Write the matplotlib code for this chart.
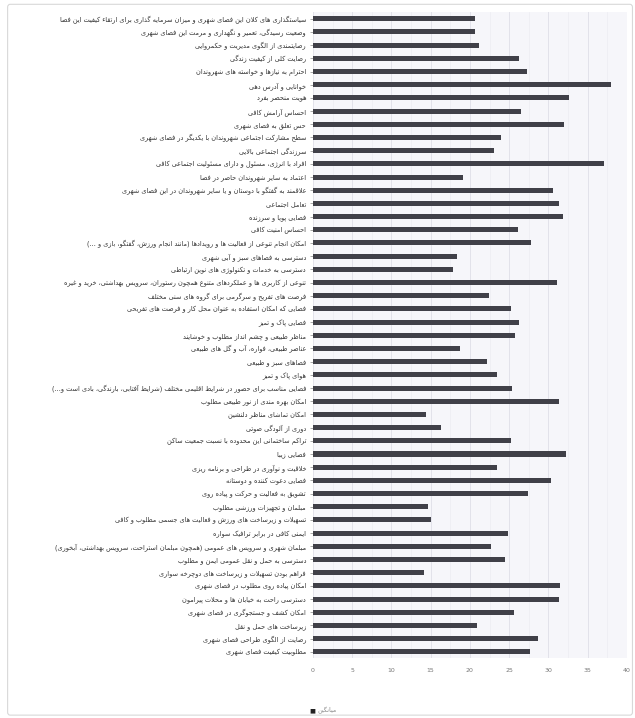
import matplotlib
matplotlib.use('Agg')
import matplotlib.pyplot as plt
from matplotlib.patches import FancyBboxPatch

labels = [
    'سیاستگذاری های کلان این فضای شهری و میزان سرمایه گذاری برای ارتقاء کیفیت این فضا',
    'وضعیت رسیدگی، تعمیر و نگهداری و مرمت این فضای شهری',
    'رضایتمندی از الگوی مدیریت و حکمروایی',
    'رضایت کلی از کیفیت زندگی',
    'احترام به نیازها و خواسته های شهروندان',
    'خوانایی و آدرس دهی',
    'هویت منحصر بفرد',
    'احساس آرامش کافی',
    'حس تعلق به فضای شهری',
    'سطح مشارکت اجتماعی شهروندان با یکدیگر در فضای شهری',
    'سرزندگی اجتماعی بالایی',
    'افراد با انرژی، مسئول و دارای مسئولیت اجتماعی کافی',
    'اعتماد به سایر شهروندان حاضر در فضا',
    'علاقمند به گفتگو با دوستان و یا سایر شهروندان در این فضای شهری',
    'تعامل اجتماعی',
    'فضایی پویا و سرزنده',
    'احساس امنیت کافی',
    'امکان انجام تنوعی از فعالیت ها و رویدادها (مانند انجام ورزش، گفتگو، بازی و ...)',
    'دسترسی به فضاهای سبز و آبی شهری',
    'دسترسی به خدمات و تکنولوژی های نوین ارتباطی',
    'تنوعی از کاربری ها و عملکردهای متنوع همچون رستوران، سرویس بهداشتی، خرید و غیره',
    'فرصت های تفریح و سرگرمی برای گروه های سنی مختلف',
    'فضایی که امکان استفاده به عنوان محل کار و فرصت های تفریحی',
    'فضایی پاک و تمیز',
    'مناظر طبیعی و چشم انداز مطلوب و خوشایند',
    'عناصر طبیعی، فواره، آب و گل های طبیعی',
    'فضاهای سبز و طبیعی',
    'هوای پاک و تمیز',
    'فضایی مناسب برای حضور در شرایط اقلیمی مختلف (شرایط آفتابی، بارندگی، بادی است و...)',
    'امکان بهره مندی از نور طبیعی مطلوب',
    'امکان تماشای مناظر دلنشین',
    'دوری از آلودگی صوتی',
    'تراکم ساختمانی این محدوده با نسبت جمعیت ساکن',
    'فضایی زیبا',
    'خلاقیت و نوآوری در طراحی و برنامه ریزی',
    'فضایی دعوت کننده و دوستانه',
    'تشویق به فعالیت و حرکت و پیاده روی',
    'مبلمان و تجهیزات ورزشی مطلوب',
    'تسهیلات و زیرساخت های ورزش و فعالیت های جسمی مطلوب و کافی',
    'ایمنی کافی در برابر ترافیک سواره',
    'مبلمان شهری و سرویس های عمومی (همچون مبلمان استراحت، سرویس بهداشتی، آبخوری)',
    'دسترسی به حمل و نقل عمومی ایمن و مطلوب',
    'فراهم بودن تسهیلات و زیرساخت های دوچرخه سواری',
    'امکان پیاده روی مطلوب در فضای شهری',
    'دسترسی راحت به خیابان ها و محلات پیرامون',
    'امکان کشف و جستجوگری در فضای شهری',
    'زیرساخت های حمل و نقل',
    'رضایت از الگوی طراحی فضای شهری',
    'مطلوبیت کیفیت فضای شهری',
]

values = [20.6, 20.6, 21.1, 26.2, 27.3, 38.0, 32.7, 26.5, 32.0, 24.0,
          23.1, 37.1, 19.1, 30.6, 31.3, 31.9, 26.1, 27.8, 18.3, 17.9,
          31.1, 22.4, 25.3, 26.3, 25.8, 18.7, 22.2, 23.5, 25.4, 31.4,
          14.4, 16.3, 25.2, 32.2, 23.5, 30.4, 27.4, 14.6, 15.1, 24.9,
          22.7, 24.5, 14.2, 31.5, 31.3, 25.6, 20.9, 28.7, 27.6]

xticks = [0, 5, 10, 15, 20, 25, 30, 35, 40]
legend_label = 'میانگین'

# matplotlib has no arabic shaping, so pick presentation forms by hand
# (isolated, final, initial, medial)
FORMS = {
    'ا': ('\uFE8D', '\uFE8E'), 'آ': ('\uFE81', '\uFE82'),
    'أ': ('\uFE83', '\uFE84'), 'إ': ('\uFE87', '\uFE88'),
    'د': ('\uFEA9', '\uFEAA'), 'ذ': ('\uFEAB', '\uFEAC'),
    'ر': ('\uFEAD', '\uFEAE'), 'ز': ('\uFEAF', '\uFEB0'),
    'ژ': ('\uFB8A', '\uFB8B'), 'و': ('\uFEED', '\uFEEE'),
    'ؤ': ('\uFE85', '\uFE86'), 'ة': ('\uFE93', '\uFE94'),
    'ب': ('\uFE8F', '\uFE90', '\uFE91', '\uFE92'),
    'پ': ('\uFB56', '\uFB57', '\uFB58', '\uFB59'),
    'ت': ('\uFE95', '\uFE96', '\uFE97', '\uFE98'),
    'ث': ('\uFE99', '\uFE9A', '\uFE9B', '\uFE9C'),
    'ج': ('\uFE9D', '\uFE9E', '\uFE9F', '\uFEA0'),
    'چ': ('\uFB7A', '\uFB7B', '\uFB7C', '\uFB7D'),
    'ح': ('\uFEA1', '\uFEA2', '\uFEA3', '\uFEA4'),
    'خ': ('\uFEA5', '\uFEA6', '\uFEA7', '\uFEA8'),
    'س': ('\uFEB1', '\uFEB2', '\uFEB3', '\uFEB4'),
    'ش': ('\uFEB5', '\uFEB6', '\uFEB7', '\uFEB8'),
    'ص': ('\uFEB9', '\uFEBA', '\uFEBB', '\uFEBC'),
    'ض': ('\uFEBD', '\uFEBE', '\uFEBF', '\uFEC0'),
    'ط': ('\uFEC1', '\uFEC2', '\uFEC3', '\uFEC4'),
    'ظ': ('\uFEC5', '\uFEC6', '\uFEC7', '\uFEC8'),
    'ع': ('\uFEC9', '\uFECA', '\uFECB', '\uFECC'),
    'غ': ('\uFECD', '\uFECE', '\uFECF', '\uFED0'),
    'ف': ('\uFED1', '\uFED2', '\uFED3', '\uFED4'),
    'ق': ('\uFED5', '\uFED6', '\uFED7', '\uFED8'),
    'ک': ('\uFB8E', '\uFB8F', '\uFB90', '\uFB91'),
    'گ': ('\uFB92', '\uFB93', '\uFB94', '\uFB95'),
    'ل': ('\uFEDD', '\uFEDE', '\uFEDF', '\uFEE0'),
    'م': ('\uFEE1', '\uFEE2', '\uFEE3', '\uFEE4'),
    'ن': ('\uFEE5', '\uFEE6', '\uFEE7', '\uFEE8'),
    'ه': ('\uFEE9', '\uFEEA', '\uFEEB', '\uFEEC'),
    'ی': ('\uFBFC', '\uFBFD', '\uFBFE', '\uFBFF'),
    'ئ': ('\uFE89', '\uFE8A', '\uFE8B', '\uFE8C'),
}
MIRROR = {'(': ')', ')': '('}


def shape(text):
    out = []
    i = 0
    n = len(text)
    while i < n:
        c = text[i]
        if c not in FORMS:
            out.append(MIRROR.get(c, c))
            i += 1
            continue
        prev = text[i - 1] if i > 0 else ''
        nxt = text[i + 1] if i + 1 < n else ''
        join_prev = prev in FORMS and len(FORMS[prev]) == 4
        if c == 'ل' and nxt == 'ا':
            out.append('\uFEFC' if join_prev else '\uFEFB')
            i += 2
            continue
        join_next = len(FORMS[c]) == 4 and nxt in FORMS
        f = FORMS[c]
        if join_prev and join_next:
            out.append(f[3])
        elif join_prev:
            out.append(f[1])
        elif join_next:
            out.append(f[2])
        else:
            out.append(f[0])
        i += 1
    return ''.join(out[::-1])


fig = plt.figure(figsize=(6.35, 7.18), dpi=100, facecolor='white')
fig.patches.append(FancyBboxPatch((0.012, 0.004), 0.984, 0.99,
                                  boxstyle='round,pad=0,rounding_size=0.004',
                                  transform=fig.transFigure, facecolor='none',
                                  edgecolor='#d8d8d8', linewidth=0.8, zorder=-5))
ax = fig.add_axes([0.493, 0.083, 0.494, 0.9])
ax.set_facecolor('#f6f6fa')

y = list(range(len(labels)))
ax.barh(y, values, height=0.38, color='#404048', zorder=3)

ax.set_xlim(0, 40)
ax.set_ylim(len(labels) - 0.5, -0.5)
ax.set_xticks(xticks)
ax.set_xticklabels([str(t) for t in xticks], fontsize=4.5, color='#777777')
ax.set_yticks(y)
ax.set_yticklabels([shape(s) for s in labels], fontsize=4.7, color='#333333',
                   family='DejaVu Sans')
ax.tick_params(axis='y', length=2, width=0.6, color='#999999', pad=3)
ax.tick_params(axis='x', length=0, pad=7)
ax.set_axisbelow(True)
ax.xaxis.grid(True, color='#e2e2ea', linewidth=0.7)
ax.set_xticks([x + 2.5 for x in xticks[:-1]], minor=True)
ax.xaxis.grid(True, which='minor', color='#ececf2', linewidth=0.5)
ax.tick_params(axis='x', which='minor', length=0)
for s in ax.spines.values():
    s.set_visible(False)

fig.text(0.487, 0.006, '■', fontsize=4.5, color='#222222', va='bottom')
fig.text(0.500, 0.006, shape(legend_label), fontsize=4.5, color='#888888',
         va='bottom')

plt.savefig('out.png', dpi=100)
